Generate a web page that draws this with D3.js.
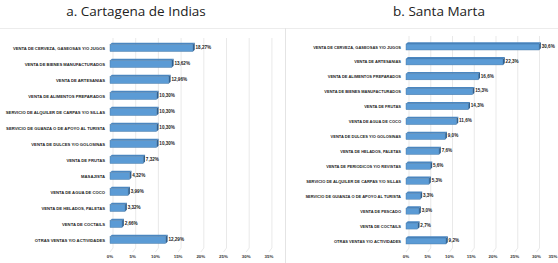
<!DOCTYPE html>
<html>
<head>
<meta charset="utf-8">
<script src="https://cdn.jsdelivr.net/npm/d3@7"></script>
<style>
  html, body { margin: 0; padding: 0; background: #fff; }
  svg { display: block; }
  .cat { font-family: "Liberation Sans", Arial, sans-serif; font-weight: bold; fill: #222; }
  .val { font-family: "Liberation Sans", Arial, sans-serif; font-weight: bold; fill: #222; }
  .tick { font-family: "Liberation Sans", Arial, sans-serif; font-weight: bold; fill: #333; }
  .title { font-family: "Open Sans", "Noto Sans", sans-serif; fill: #222; }
</style>
</head>
<body>
<div id="chart"></div>
<script>
// Cartagena de Indias
const cartagenaCats = [
  'VENTA DE CERVEZA, GASEOSAS Y/O JUGOS',
  'VENTA DE BIENES MANUFACTURADOS',
  'VENTA DE ARTESANIAS',
  'VENTA DE ALIMENTOS PREPARADOS',
  'SERVICIO DE ALQUILER DE CARPAS Y/O SILLAS',
  'SERVICIO DE GUANZA O DE APOYO AL TURISTA',
  'VENTA DE DULCES Y/O GOLOSINAS',
  'VENTA DE FRUTAS',
  'MASAJISTA',
  'VENTA DE AGUA DE COCO',
  'VENTA DE HELADOS, PALETAS',
  'VENTA DE COCTAILS',
  'OTRAS VENTAS Y/O ACTIVIDADES'
];
const cartagenaVals = [18.27, 13.62, 12.96, 10.30, 10.30, 10.30, 10.30, 7.32, 4.32, 3.99, 3.32, 2.66, 12.29];

// Santa Marta
const santaMartaCats = [
  'VENTA DE CERVEZA, GASEOSAS Y/O JUGOS',
  'VENTA DE ARTESANIAS',
  'VENTA DE ALIMENTOS PREPARADOS',
  'VENTA DE BIENES MANUFACTURADOS',
  'VENTA DE FRUTAS',
  'VENTA DE AGUA DE COCO',
  'VENTA DE DULCES Y/O GOLOSINAS',
  'VENTA DE HELADOS, PALETAS',
  'VENTA DE PERIODICOS Y/O REVISTAS',
  'SERVICIO DE ALQUILER DE CARPAS Y/O SILLAS',
  'SERVICIO DE GUIANZA O DE APOYO AL TURISTA',
  'VENTA DE PESCADO',
  'VENTA DE COCTAILS',
  'OTRAS VENTAS Y/O ACTIVIDADES'
];
const santaMartaVals = [30.6, 22.3, 16.6, 15.3, 14.3, 11.6, 9.0, 7.6, 5.6, 5.3, 3.3, 3.0, 2.7, 9.2];

const xTicks = [0, 5, 10, 15, 20, 25, 30, 35];

const W = 558, H = 263;
const svg = d3.select('#chart').append('svg')
  .attr('width', W).attr('height', H);

// panel frame lines
svg.append('line')
  .attr('x1', 0).attr('x2', W).attr('y1', 28.5).attr('y2', 28.5)
  .attr('stroke', '#ececec');
svg.append('line')
  .attr('x1', 285.5).attr('x2', 285.5).attr('y1', 28).attr('y2', H)
  .attr('stroke', '#e4e4e4');

function drawPanel(opts) {
  const { title, titleX, cats, vals, x0, pxPer, y0, y1, gridTop, gridBottom, barH, catSize, decimals } = opts;

  const x = d3.scaleLinear().domain([0, 35]).range([x0, x0 + 35 * pxPer]);
  const y = d3.scalePoint().domain(cats).range([y0, y1]);
  const g = svg.append('g');
  const depth = 1.8;

  g.append('text')
    .attr('class', 'title')
    .attr('x', titleX).attr('y', 16)
    .attr('text-anchor', 'middle')
    .style('font-size', '13.5px')
    .text(title);

  // gridlines (back wall + floor slant)
  g.append('g').selectAll('path')
    .data(xTicks)
    .enter()
    .append('path')
    .attr('d', d => `M${x(d) + 3},${gridTop} L${x(d) + 3},${gridBottom - 4} L${x(d)},${gridBottom}`)
    .attr('fill', 'none')
    .attr('stroke', '#e3e3e3')
    .attr('stroke-width', 0.8);

  // tick labels (keep the last one inside the window)
  g.append('g').selectAll('text')
    .data(xTicks)
    .enter()
    .append('text')
    .attr('class', 'tick')
    .attr('x', d => Math.min(x(d), W - 5))
    .attr('y', H - 5)
    .attr('text-anchor', 'middle')
    .style('font-size', '4.4px')
    .text(d => d + '%');

  const data = cats.map((c, i) => ({ cat: c, val: vals[i] }));

  const bars = g.append('g').selectAll('g')
    .data(data)
    .enter()
    .append('g');

  // top face
  bars.append('path')
    .attr('d', d => {
      const yt = y(d.cat) - barH / 2;
      return `M${x(0)},${yt} L${x(0) + depth},${yt - depth} L${x(d.val) + depth},${yt - depth} L${x(d.val)},${yt} Z`;
    })
    .attr('fill', '#4a86c0');

  // right face
  bars.append('path')
    .attr('d', d => {
      const yt = y(d.cat) - barH / 2;
      return `M${x(d.val)},${yt} L${x(d.val) + depth},${yt - depth} L${x(d.val) + depth},${yt + barH - depth} L${x(d.val)},${yt + barH} Z`;
    })
    .attr('fill', '#2f5f8f');

  // front face
  bars.append('rect')
    .attr('x', x(0))
    .attr('y', d => y(d.cat) - barH / 2)
    .attr('width', d => x(d.val) - x(0))
    .attr('height', barH)
    .attr('fill', '#5b9bd5')
    .attr('stroke', '#41719c')
    .attr('stroke-width', 0.4);

  // value labels
  bars.append('text')
    .attr('class', 'val')
    .attr('x', d => x(d.val) + depth + 0.8)
    .attr('y', d => y(d.cat) - 0.5)
    .attr('dominant-baseline', 'middle')
    .style('font-size', '4.6px')
    .text(d => d.val.toFixed(decimals).replace('.', ',') + '%');

  // category labels
  g.append('g').selectAll('text')
    .data(cats)
    .enter()
    .append('text')
    .attr('class', 'cat')
    .attr('x', x0 - 5)
    .attr('y', d => y(d) + 0.5)
    .attr('text-anchor', 'end')
    .attr('dominant-baseline', 'middle')
    .style('font-size', catSize + 'px')
    .text(d => d);
}

drawPanel({
  title: 'a. Cartagena de Indias', titleX: 136,
  cats: cartagenaCats, vals: cartagenaVals,
  x0: 110, pxPer: 4.54, y0: 48, y1: 240,
  gridTop: 38, gridBottom: 252, barH: 7, catSize: 4.2, decimals: 2
});

drawPanel({
  title: 'b. Santa Marta', titleX: 439,
  cats: santaMartaCats, vals: santaMartaVals,
  x0: 406, pxPer: 4.35, y0: 47, y1: 241,
  gridTop: 36, gridBottom: 252, barH: 6, catSize: 4.0, decimals: 1
});
</script>
</body>
</html>
